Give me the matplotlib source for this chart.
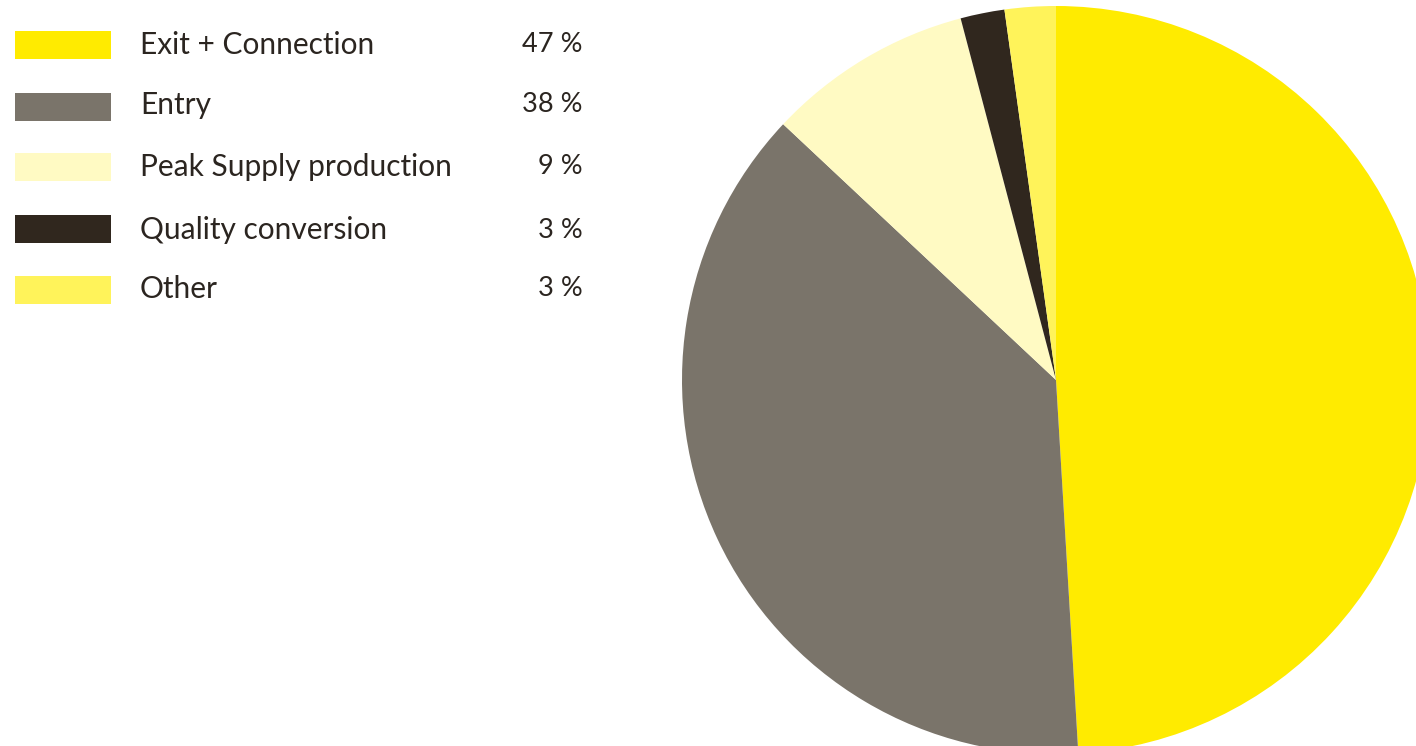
import matplotlib
matplotlib.use("Agg")
import matplotlib.pyplot as plt
from matplotlib.patches import Rectangle

# ── Data ──────────────────────────────────────────────────────
categories = ["Exit + Connection", "Entry", "Peak Supply production",
              "Quality conversion", "Other"]
share_labels = ["47 %", "38 %", "9 %", "3 %", "3 %"]
# slice sizes as drawn in the pie
slice_sizes = [49.0, 37.9, 8.9, 1.9, 2.2]
colors = ["#FFEB00", "#7A746A", "#FFFAC3", "#30271E", "#FFF35A"]

W, H = 1416, 746
fig = plt.figure(figsize=(W / 100, H / 100), dpi=100)
fig.patch.set_facecolor("white")

# ── Pie ───────────────────────────────────────────────────────
cx, cy, r = 1056, 380, 374
ax = fig.add_axes([(cx - r) / W, (H - cy - r) / H, 2 * r / W, 2 * r / H])
ax.pie(slice_sizes, colors=colors, startangle=90, counterclock=False,
       radius=1, wedgeprops=dict(linewidth=0))
ax.set_xlim(-1, 1)
ax.set_ylim(-1, 1)
ax.set_aspect("auto")
ax.axis("off")

# ── Legend (drawn by hand) ────────────────────────────────────
lax = fig.add_axes([0, 0, 1, 1])
lax.set_xlim(0, W)
lax.set_ylim(H, 0)
lax.axis("off")
lax.set_zorder(-1)

row_y = [45, 107, 167, 229, 290]
text_y = [45, 105, 167, 230, 289]
for i, cat in enumerate(categories):
    lax.add_patch(Rectangle((15, row_y[i] - 14), 96, 28,
                            facecolor=colors[i], edgecolor="none"))
    lax.text(140, text_y[i], cat, fontsize=21.5, family="Lato",
             color="#2B2520", va="center", ha="left")
    lax.text(583, text_y[i], share_labels[i], fontsize=19.5, family="Lato",
             color="#2B2520", va="center", ha="right")

fig.savefig("out.png", dpi=100)
